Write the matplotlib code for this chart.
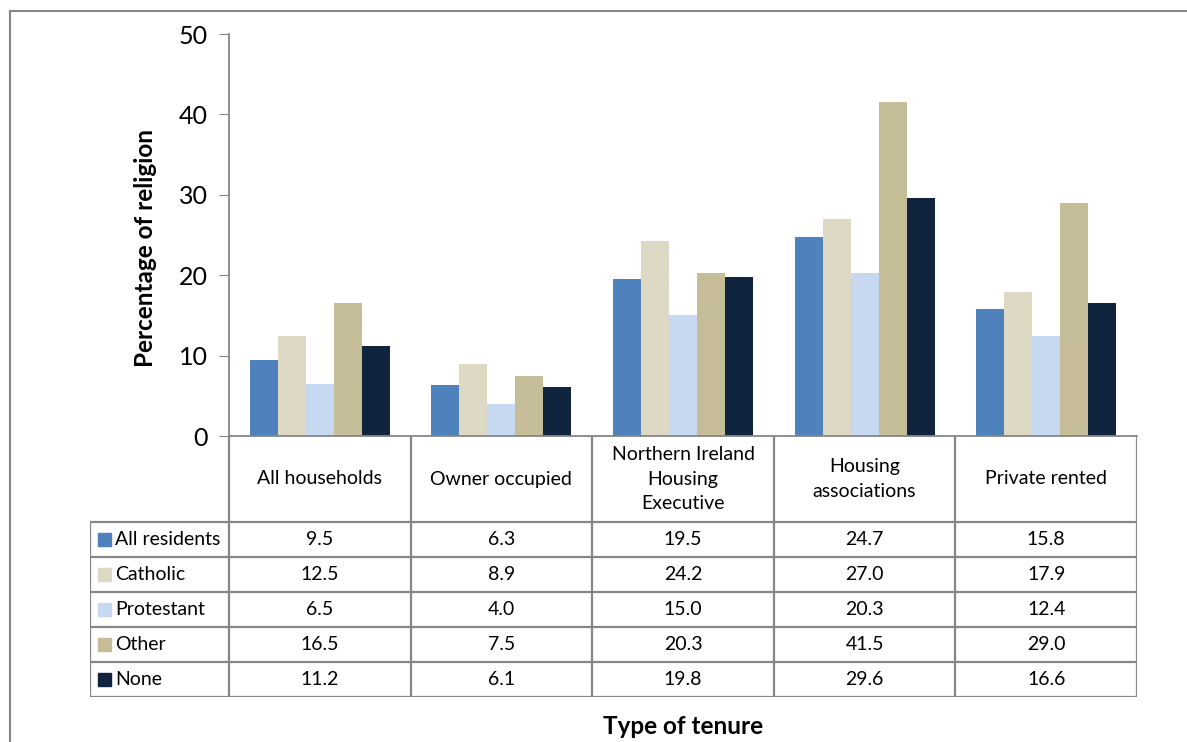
import matplotlib.pyplot as plt
import numpy as np
from matplotlib.lines import Line2D
from matplotlib.patches import Rectangle

plt.rcParams['font.family'] = ['Lato', 'DejaVu Sans']

categorias = ['All households', 'Owner occupied', 'Northern Ireland\nHousing\nExecutive',
              'Housing\nassociations', 'Private rented']
series = ['All residents', 'Catholic', 'Protestant', 'Other', 'None']
all_residents = [9.5, 6.3, 19.5, 24.7, 15.8]
catholic = [12.5, 8.9, 24.2, 27.0, 17.9]
protestant = [6.5, 4.0, 15.0, 20.3, 12.4]
other = [16.5, 7.5, 20.3, 41.5, 29.0]
none = [11.2, 6.1, 19.8, 29.6, 16.6]
valores = [all_residents, catholic, protestant, other, none]
colores = ['#4F81BD', '#DDD9C4', '#C6D9F1', '#C4BD97', '#10243E']

W, H = 1187, 742
gris = '#868686'

fig = plt.figure(figsize=(W / 100, H / 100), dpi=100)

# marco exterior
fig.add_artist(Line2D([10 / W, 1], [1 - 11 / H, 1 - 11 / H], color=gris, lw=1.5))
fig.add_artist(Line2D([10 / W, 10 / W], [0, 1 - 11 / H], color=gris, lw=1.5))

# ejes principales (en pixeles)
x0, x1, ytop, ybot = 229, 1137, 34, 436
ax = fig.add_axes([x0 / W, 1 - ybot / H, (x1 - x0) / W, (ybot - ytop) / H])
n = len(categorias)
x = np.arange(n)
ancho = 0.154
for i, (s, v, c) in enumerate(zip(series, valores, colores)):
    ax.bar(x + (i - 2) * ancho, v, ancho, color=c, label=s)
ax.set_xlim(-0.5, n - 0.5)
ax.set_ylim(0, 50)
ax.set_yticks([0, 10, 20, 30, 40, 50])
ax.tick_params(axis='y', labelsize=18, length=7, color=gris, pad=8)
ax.set_xticks([])
for lado in ['top', 'right']:
    ax.spines[lado].set_visible(False)
ax.spines['left'].set_color(gris)
ax.spines['bottom'].set_color(gris)
ax.spines['left'].set_linewidth(1.3)
ax.spines['bottom'].set_linewidth(1.3)
ax.set_ylabel('Percentage of religion', fontsize=17.5, fontweight='bold')
ax.yaxis.set_label_coords(-0.079, 0.468)

# tabla de datos
tx0, tbot = 90, 697
head_h, row_h = 86, 35
u = (x1 - x0) / n
tab = fig.add_axes([tx0 / W, 1 - tbot / H, (x1 - tx0) / W, (tbot - ybot) / H])
tab.set_xlim(-0.5 - (x0 - tx0) / u, n - 0.5)
tab.set_ylim(tbot - ybot, 0)
tab.axis('off')
lk = dict(color=gris, lw=1.6, solid_capstyle='butt')
# lineas verticales
for k in range(n + 1):
    tab.plot([k - 0.5, k - 0.5], [0, tbot - ybot], **lk)
tab.plot([-0.5 - (x0 - tx0) / u] * 2, [head_h, tbot - ybot], **lk)
# lineas horizontales
for r in range(len(series) + 1):
    yy = head_h + r * row_h
    tab.plot([-0.5 - (x0 - tx0) / u, n - 0.5], [yy, yy], **lk)
# encabezados
for k, cat in enumerate(categorias):
    tab.text(k, head_h / 2, cat, ha='center', va='center', fontsize=14, linespacing=1.55)
# filas
for r, (s, v, c) in enumerate(zip(series, valores, colores)):
    yc = head_h + r * row_h + row_h / 2
    xl = -0.5 - (x0 - tx0) / u
    tab.add_patch(Rectangle((xl + 8 / u, yc - 6.5), 13 / u, 13, color=c))
    tab.text(xl + 25 / u, yc, s, ha='left', va='center', fontsize=14)
    for k, val in enumerate(v):
        tab.text(k, yc, f'{val:.1f}', ha='center', va='center', fontsize=14)

fig.text((x0 + x1) / 2 / W, 1 - 727 / H, 'Type of tenure', ha='center', va='center',
         fontsize=17.5, fontweight='bold')

fig.savefig('out.png', dpi=100)
